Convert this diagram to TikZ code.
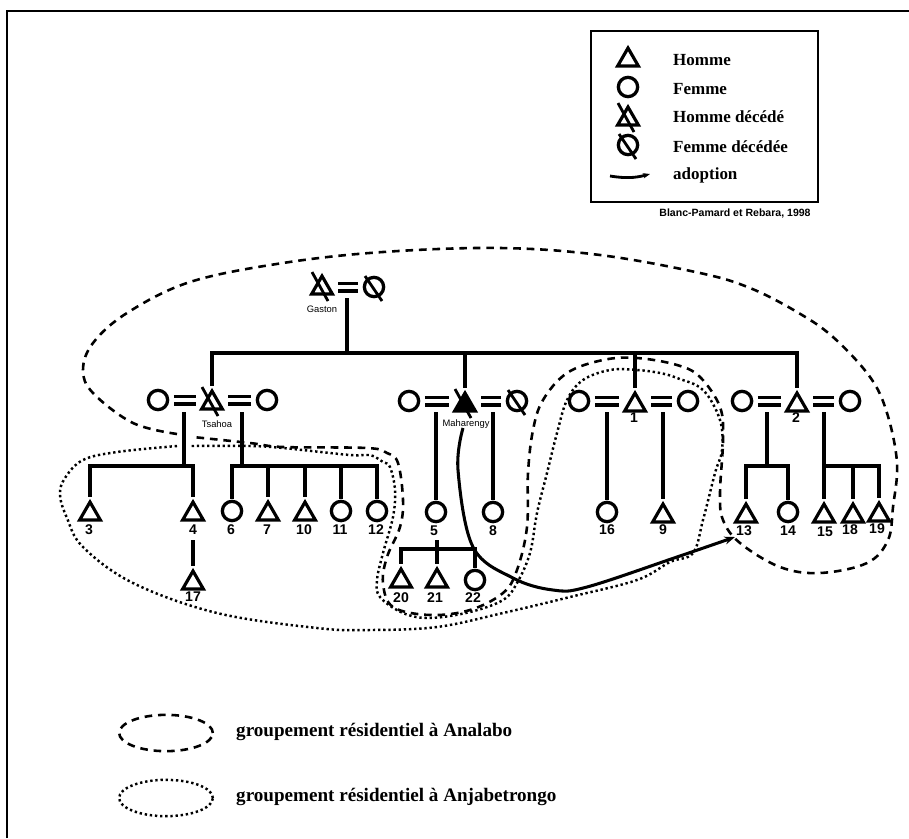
\documentclass[tikz,border=0pt]{standalone}
\usepackage{fontspec}
\setmainfont{Liberation Serif}
\newfontfamily\sansfont{Liberation Sans}
\usepackage{tikz}
\usetikzlibrary{arrows.meta,shapes.geometric}
\tikzset{
  homme/.style={regular polygon,regular polygon sides=3,draw,line width=2.7pt,inner sep=0pt,minimum size=20.5pt,outer sep=2pt,yshift=-2.6pt},
  femme/.style={circle,draw,line width=2.8pt,inner sep=0pt,minimum size=16.5pt,outer sep=2pt},
  num/.style={font=\sansfont\bfseries\fontsize{12}{12}\selectfont,inner sep=0pt},
  nom/.style={font=\sansfont\fontsize{8}{8}\selectfont,inner sep=0pt},
  legende/.style={font=\bfseries\fontsize{14.5}{15}\selectfont,inner sep=0pt,anchor=west},
  groupe/.style={font=\bfseries\fontsize{16.3}{16}\selectfont,inner sep=0pt,anchor=west},
  lien/.style={line width=3pt},
  mariage/.style={line width=2.8pt,double=white,double distance=3.8pt,shorten >=13.6pt,shorten <=13.6pt,yshift=1.5pt},
  barre/.style={line width=2.4pt},
  analabo/.style={line width=2.2pt,dash pattern=on 6.5pt off 5pt},
  anjabe/.style={line width=2.1pt,dash pattern=on 2pt off 2.4pt},
}
\begin{document}
\begin{tikzpicture}[x=0.03cm,y=-0.03cm,>=Stealth]
  \useasboundingbox (0,0) rectangle (909,838);
  \coordinate (cadreA) at (7,838);
  \coordinate (cadreB) at (7,11);
  \coordinate (cadreC) at (909,11);
  \draw[line width=2.2pt] (cadreA) -- (cadreB) -- (cadreC);
  % legende
  \node[draw,line width=2pt,minimum width=193.5pt,minimum height=146pt,inner sep=0pt] (cle) at (704.5,116.5) {};
  \node[homme] (lh) at (628,57) {};
  \node[femme] (lf) at (628,87) {};
  \node[homme] (lhd) at (628,116) {};
  \node[femme] (lfd) at (628,145) {};
  \coordinate (adA) at (610,176);
  \coordinate (adB) at (650,174);
  \draw[barre,-{Stealth[length=6pt]}] (adA) to[bend right=12] (adB);
  \node[legende] (tH) at (673,60) {Homme};
  \node[legende] (tF) at (673,89) {Femme};
  \node[legende] (tHD) at (673,117) {Homme décédé};
  \node[legende] (tFD) at (673,147) {Femme décédée};
  \node[legende] (tA) at (673,175) {adoption};
  \node[font=\sansfont\bfseries\fontsize{9}{9}\selectfont,inner sep=0pt] (src) at (735,213) {Blanc-Pamard et Rebara, 1998};
  % contours
  \draw[analabo] plot[smooth,tension=0.6] coordinates {(177,434) (133,423) (93,393) (83,370) (93,343) (127,313) (190,282) (283,263) (383,252) (500,248) (600,255) (700,273) (750,288) (797,312) (833,337) (870,377) (887,413) (897,463) (893,507) (888,540) (867,563) (820,573) (780,567) (740,543) (723,520) (720,493) (723,440) (720,407) (700,377) (677,365) (637,358) (603,360) (567,373) (543,400) (533,430) (528,473) (527,527) (517,570) (503,593) (470,610) (430,615) (393,607) (383,583) (387,557) (400,527) (403,500) (398,463) (387,453) (367,448) (283,447) (250,443) (193,437)};
  \draw[anjabe] plot[smooth,tension=0.6] coordinates {(177,446) (117,452) (83,460) (65,478) (60,495) (67,518) (83,547) (133,583) (217,613) (317,628) (370,630) (437,627) (503,613) (570,597) (637,580) (670,562) (693,553) (703,520) (715,473) (722,450) (720,420) (703,390) (677,378) (660,373) (637,370) (610,370) (583,380) (567,400) (557,433) (547,473) (537,513) (530,553) (517,583) (503,600) (470,612) (430,618) (403,613) (380,597) (377,580) (383,553) (393,517) (395,490) (390,467) (383,462) (370,455) (350,455) (283,448) (250,446) (190,446)};
  % generation 1
  \node[homme] (gaston) at (322,285) {};
  \node[femme] (gastonf) at (374,287) {};
  \node[nom] (tgaston) at (322,309) {Gaston};
  % generation 2
  \node[femme] (tsa1) at (158,400) {};
  \node[homme] (tsahoa) at (212,400) {};
  \node[femme] (tsa2) at (267,400) {};
  \node[nom] (ttsahoa) at (217,424) {Tsahoa};
  \node[femme] (mah1) at (409,401) {};
  \node[homme,fill=black] (maharengy) at (465,402) {};
  \node[femme] (mah2) at (517,401) {};
  \node[nom] (tmaharengy) at (466,424) {Maharengy};
  \node[femme] (un1) at (579,401) {};
  \node[homme] (un) at (635,402) {};
  \node[femme] (un2) at (688,401) {};
  \node[femme] (dx1) at (742,401) {};
  \node[homme] (deux) at (797,402) {};
  \node[femme] (dx2) at (850,401) {};
  \node[num] (t1) at (634,418) {1};
  \node[num] (t2) at (796,418) {2};
  % generation 3
  \node[homme] (n3) at (90,511) {};
  \node[homme] (n4) at (193,511) {};
  \node[femme] (n6) at (232,511) {};
  \node[homme] (n7) at (268,511) {};
  \node[homme] (n10) at (305,511) {};
  \node[femme] (n11) at (341,511) {};
  \node[femme] (n12) at (377,511) {};
  \node[femme] (n5) at (436,512) {};
  \node[femme] (n8) at (493,512) {};
  \node[femme] (n16) at (607,512) {};
  \node[homme] (n9) at (663,513) {};
  \node[homme] (n13) at (746,513) {};
  \node[femme] (n14) at (788,512) {};
  \node[homme] (n15) at (824,513) {};
  \node[homme] (n18) at (853,513) {};
  \node[homme] (n19) at (879,512) {};
  \node[homme] (n17) at (193,580) {};
  \node[homme] (n20) at (401,578) {};
  \node[homme] (n21) at (437,578) {};
  \node[femme] (n22) at (475,580) {};
  \foreach \n/\x/\y/\t in {t3/89/530/3,t4/193/530/4,t6/231/530/6,t7/267/530/7,t10/304/530/10,t11/340/530/11,t12/376/530/12,t5/434/531/5,t8/493/531/8,t16/607/530/16,t9/663/530/9,t13/744/531/13,t14/788/531/14,t15/825/532/15,t18/850/530/18,t19/877/529/19,t17/193/597/17,t20/401/598/20,t21/435/598/21,t22/473/598/22}
    \node[num] (\n) at (\x,\y) {\t};
  % barres des deces
  \foreach \n in {lhd,gaston,tsahoa,maharengy}
    \draw[barre] ([shift={(-10,-16)}]\n.center) -- ([shift={(6,13)}]\n.center);
  \foreach \n in {lfd,gastonf,mah2}
    \draw[barre] ([shift={(-9,-11)}]\n.center) -- ([shift={(8,14)}]\n.center);
  % mariages
  \foreach \f/\h in {gastonf/gaston,tsa1/tsahoa,tsa2/tsahoa,mah1/maharengy,mah2/maharengy,un1/un,un2/un,dx1/deux,dx2/deux}
    \draw[mariage] (\f.center) -- (\f.center -| \h.center);
  % filiation
  \coordinate (mg) at (347,298);
  \coordinate (jg) at (347,353);
  \draw[lien] (mg) -- (jg);
  \foreach \n in {tsahoa,maharengy,un,deux}
    \draw[lien] (jg) -| (\n.north);
  \coordinate (ma) at (184,412);
  \coordinate (ja) at (184,466);
  \draw[lien] (ma) -- (ja);
  \foreach \n in {n3,n4}
    \draw[lien] (ja) -| (\n.north);
  \coordinate (mb) at (242,412);
  \coordinate (jb) at (242,466);
  \draw[lien] (mb) -- (jb);
  \foreach \n in {n6,n7,n10,n11,n12}
    \draw[lien] (jb) -| (\n.north);
  \coordinate (mc) at (436,412);
  \draw[lien] (mc) -- (n5.north);
  \coordinate (md) at (493,412);
  \draw[lien] (md) -- (n8.north);
  \coordinate (me) at (607,412);
  \draw[lien] (me) -- (n16.north);
  \coordinate (mf) at (663,412);
  \draw[lien] (mf) -- (n9.north);
  \coordinate (mh) at (767,412);
  \coordinate (jh) at (767,466);
  \draw[lien] (mh) -- (jh);
  \foreach \n in {n13,n14}
    \draw[lien] (jh) -| (\n.north);
  \coordinate (mi) at (824,412);
  \coordinate (ji) at (824,466);
  \draw[lien] (mi) -- (n15.north);
  \foreach \n in {n18,n19}
    \draw[lien] (ji) -| (\n.north);
  \coordinate (mj) at (193,540);
  \draw[lien] (mj) -- (n17.north);
  \coordinate (mk) at (437,540);
  \coordinate (jk) at (437,549);
  \draw[lien] (mk) -- (jk);
  \foreach \n in {n20,n21,n22}
    \draw[lien] (jk) -| (\n.north);
  % adoption
  \coordinate (adC) at (463,428);
  \draw[line width=2.6pt,-{Stealth[length=9pt]}] plot[smooth,tension=0.6] coordinates {(adC) (458,470) (473,547) (513,578) (553,590) (587,587) (677,557) (735,537)};
  % legende du bas
  \node[draw,ellipse,analabo,minimum width=80pt,minimum height=31pt,inner sep=0pt] (ea) at (166,733) {};
  \node[draw,ellipse,anjabe,minimum width=80pt,minimum height=31pt,inner sep=0pt] (eb) at (166,798) {};
  \node[groupe] (ta) at (236,732) {groupement résidentiel à Analabo};
  \node[groupe] (tb) at (236,797) {groupement résidentiel à Anjabetrongo};
\end{tikzpicture}
\end{document}
